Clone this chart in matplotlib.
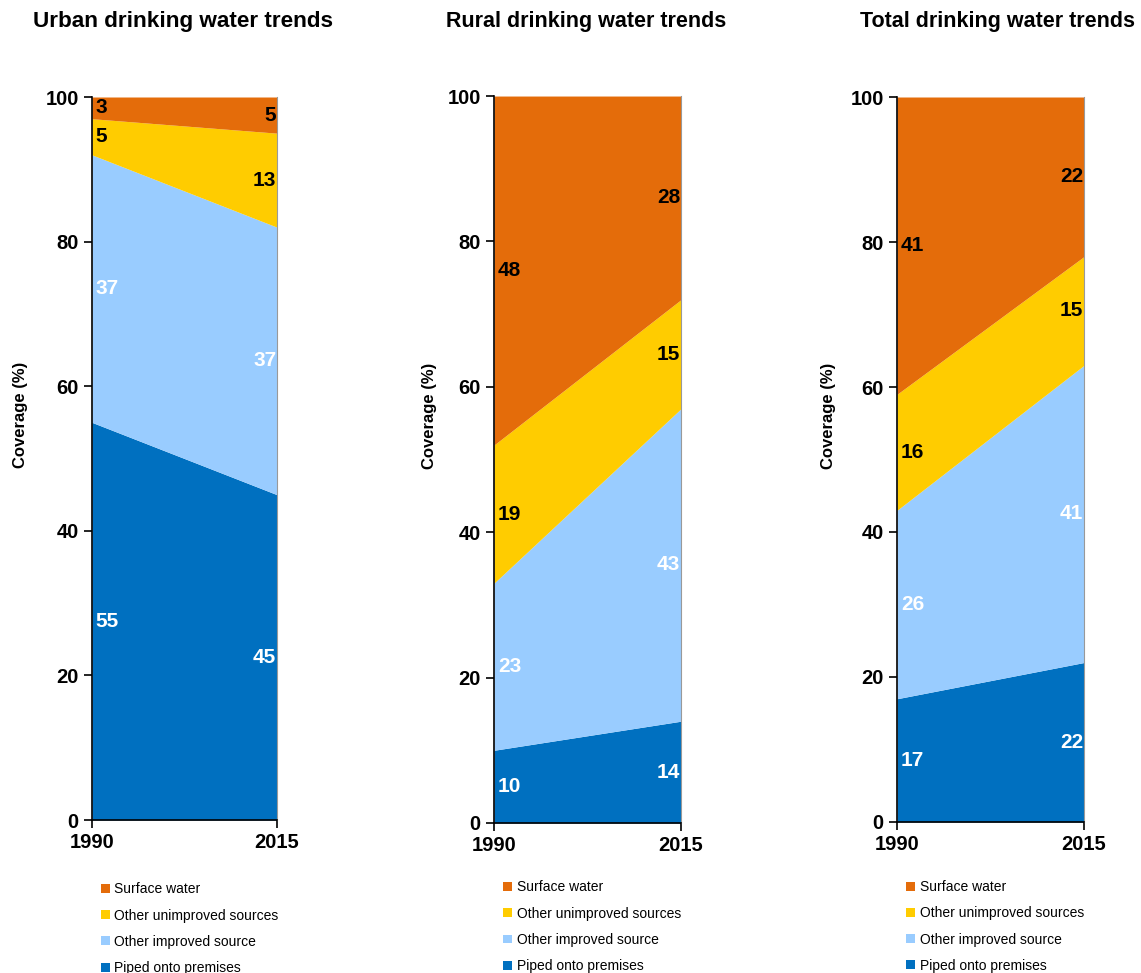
import matplotlib.pyplot as plt
import numpy as np

plt.rcParams['font.family'] = ['Liberation Sans', 'DejaVu Sans']

years = [1990, 2015]
series_names = ['Piped onto premises', 'Other improved source',
                'Other unimproved sources', 'Surface water']
titles = ['Urban drinking water trends', 'Rural drinking water trends',
          'Total drinking water trends']

urban_1990 = [55, 37, 5, 3]
urban_2015 = [45, 37, 13, 5]
rural_1990 = [10, 23, 19, 48]
rural_2015 = [14, 43, 15, 28]
total_1990 = [17, 26, 16, 41]
total_2015 = [22, 41, 15, 22]

colors = ['#0070C0', '#99CCFF', '#FFCC00', '#E46C0A']
text_colors = ['white', 'white', 'black', 'black']

panels = [(urban_1990, urban_2015), (rural_1990, rural_2015), (total_1990, total_2015)]
ax_rects = [
    [0.0806, 0.1572, 0.1621, 0.7431],
    [0.4330, 0.1542, 0.1639, 0.7471],
    [0.7862, 0.1552, 0.1639, 0.7451],
]
title_x = [183, 586, 997]
title_size = [16.2, 15.5, 15.5]
ylabel_pos = [(-0.346, 0.56), (-0.306, 0.56), (-0.326, 0.56)]
legend_tops = [-0.0785, -0.0715, -0.0725]

fig = plt.figure(figsize=(11.41, 9.73), dpi=100)

for k, ((v1990, v2015), rect, title) in enumerate(zip(panels, ax_rects, titles)):
    ax = fig.add_axes(rect)
    vals = np.array([v1990, v2015], dtype=float).T  # series x years
    bottoms = np.vstack([np.zeros(2), np.cumsum(vals, axis=0)[:-1]])
    handles = []
    for i in range(len(series_names)):
        h = ax.fill_between(years, bottoms[i], bottoms[i] + vals[i],
                            color=colors[i], linewidth=0, label=series_names[i])
        handles.append(h)
        for j, yr in enumerate(years):
            mid = bottoms[i][j] + vals[i][j] / 2
            if j == 0:
                ax.text(yr + 0.5, mid, f'{int(vals[i][j])}', ha='left', va='center',
                        fontsize=15, fontweight='bold', color=text_colors[i])
            else:
                ax.text(yr - 0.1, mid, f'{int(vals[i][j])}', ha='right', va='center',
                        fontsize=15, fontweight='bold', color=text_colors[i])

    ax.set_xlim(1990, 2015)
    ax.set_ylim(0, 100)
    ax.set_xticks(years)
    ax.set_yticks([0, 20, 40, 60, 80, 100])
    ax.tick_params(axis='both', labelsize=14.5, width=1.2, length=6, direction='out')
    for lab in ax.get_xticklabels() + ax.get_yticklabels():
        lab.set_fontweight('bold')
    ax.spines['top'].set_visible(False)
    ax.spines['right'].set_color('#999999')
    ax.spines['right'].set_linewidth(0.8)
    ax.spines['left'].set_linewidth(1.2)
    ax.spines['bottom'].set_linewidth(1.2)
    ax.set_ylabel('Coverage (%)', fontsize=12, fontweight='bold')
    ax.yaxis.set_label_coords(*ylabel_pos[k])

    fig.text(title_x[k] / 1141, 1 - 22 / 973, title, ha='center', va='center',
             fontsize=title_size[k], fontweight='bold')

    ax.legend(handles[::-1], series_names[::-1], loc='upper left',
              bbox_to_anchor=(0.02, legend_tops[k]), frameon=False, fontsize=10,
              handlelength=0.6, handleheight=0.6, handletextpad=0.35,
              labelspacing=0.88, borderaxespad=0)

fig.savefig('out.png', dpi=100)
